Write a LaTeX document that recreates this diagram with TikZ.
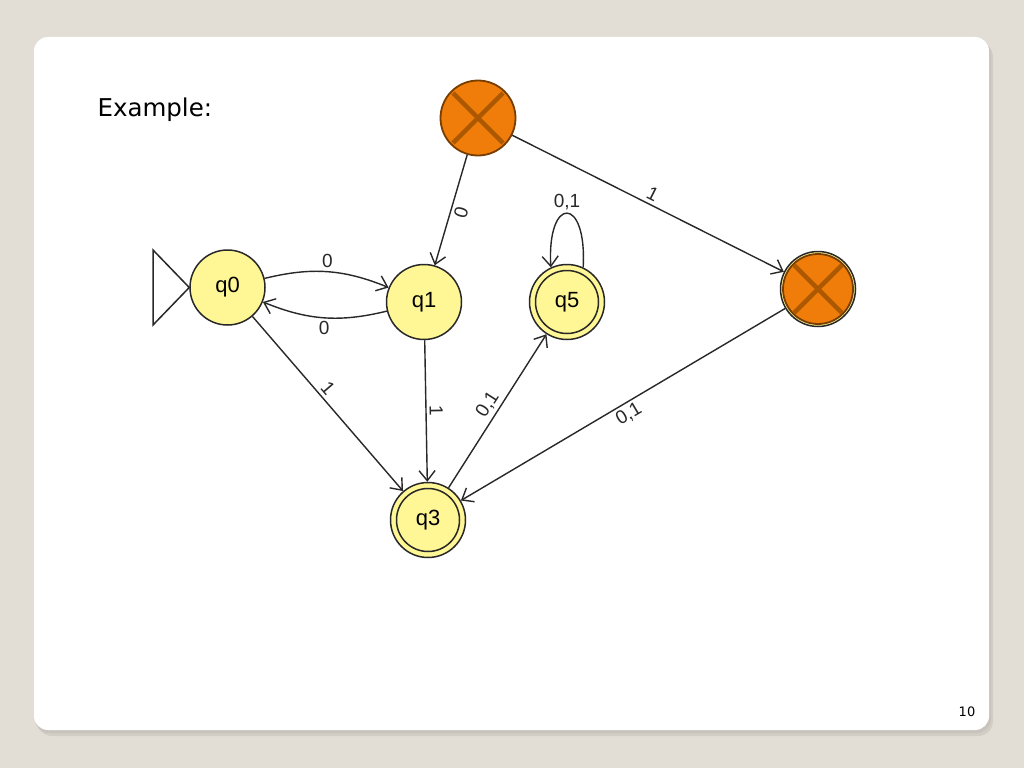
\documentclass[tikz,border=0pt]{standalone}
\usepackage{fontspec}
\setmainfont{DejaVu Sans}
\newfontfamily\labfont{Liberation Sans}
\usetikzlibrary{arrows.meta,calc}
\definecolor{bgc}{RGB}{226,222,213}
\definecolor{shadowc}{RGB}{196,192,184}
\definecolor{stfill}{RGB}{255,247,150}
\definecolor{edgec}{RGB}{40,40,40}
\definecolor{orangec}{RGB}{240,125,10}
\definecolor{brownc}{RGB}{120,62,0}
\definecolor{xc}{RGB}{172,88,0}
\begin{document}
\begin{tikzpicture}[x=1pt,y=1pt,
  state/.style={circle, draw=edgec, line width=1.5pt, fill=stfill, minimum size=75pt, inner sep=0pt, font=\labfont\fontsize{22}{22}\selectfont},
  ring/.style={draw=edgec, line width=1.5pt},
  deadst/.style={circle, draw=brownc, line width=1.8pt, fill=orangec, minimum size=75pt, inner sep=0pt},
  xline/.style={draw=xc, line width=4.5pt},
  edge/.style={draw=edgec, line width=1.4pt, -{Straight Barb[length=10pt,width=16pt,line width=1.4pt]}},
  lbl/.style={font=\labfont\fontsize{19}{19}\selectfont, inner sep=3pt, text=edgec}
]
\useasboundingbox (0,0) rectangle (1024,-768);
\fill[bgc] (0,0) rectangle (1024,-768);
% card with shadow
\fill[shadowc, opacity=0.5, rounded corners=15pt] (37,-42) rectangle (993,-736);
\fill[shadowc, opacity=0.7, rounded corners=14pt] (35,-40) rectangle (991,-733);
\fill[white, rounded corners=14pt] (34,-37) rectangle (989,-730);

\node[anchor=base west, font=\fontsize{24.5}{24.5}\selectfont] (title) at (94,-116) {Example:};
\node[font=\fontsize{13}{13}\selectfont] (pnum) at (967,-712) {10};

% states
\node[state] (q0) at (227.5,-287.5) {q0};
\node[state] (q1) at (424,-302) {q1};
\node[state] (q5) at (567,-302) {q5};
\draw[ring] (q5.center) circle[radius=31.5];
\node[state] (q3) at (428,-520) {q3};
\draw[ring] (q3.center) circle[radius=31.5];
\node[deadst] (d1) at (478,-118) {};
\draw[xline] ($(d1.center)+(-25,25)$) -- ($(d1.center)+(25,-25)$);
\draw[xline] ($(d1.center)+(-25,-25)$) -- ($(d1.center)+(25,25)$);
\node[state] (d2) at (818,-289) {};
\draw[draw=brownc, line width=1.8pt, fill=orangec] (d2.center) circle[radius=35];
\draw[xline] ($(d2.center)+(-24,24)$) -- ($(d2.center)+(24,-24)$);
\draw[xline] ($(d2.center)+(-24,-24)$) -- ($(d2.center)+(24,24)$);

% initial marker
\coordinate (i1) at (153,-250);
\coordinate (i2) at (153,-325);
\draw[edgec, line width=1.5pt] (i1) -- (q0.west) -- (i2) -- cycle;

% transitions
\draw[edge] (q0) to[bend left=18] node[above,lbl] {0} (q1);
\draw[edge] (q1) to[bend left=18] node[below,lbl] {0} (q0);
\draw[edge] (d1) -- node[below,sloped,lbl] {0} (q1);
\draw[edge] (d1) -- node[above,sloped,lbl] {1} (d2);
\draw[edge] (q1) -- node[above,sloped,lbl] {1} (q3);
\draw[edge] (q0) -- node[pos=0.45,above,sloped,lbl] {1} (q3);
\draw[edge] (q3) -- node[above,sloped,lbl] {0,1} (q5);
\draw[edge] (d2) -- node[below,sloped,lbl] {0,1} (q3);
\draw[edge] (q5.65) .. controls +(4,72) and +(-4,72) .. node[above,lbl] {0,1} (q5.115);
\end{tikzpicture}
\end{document}
